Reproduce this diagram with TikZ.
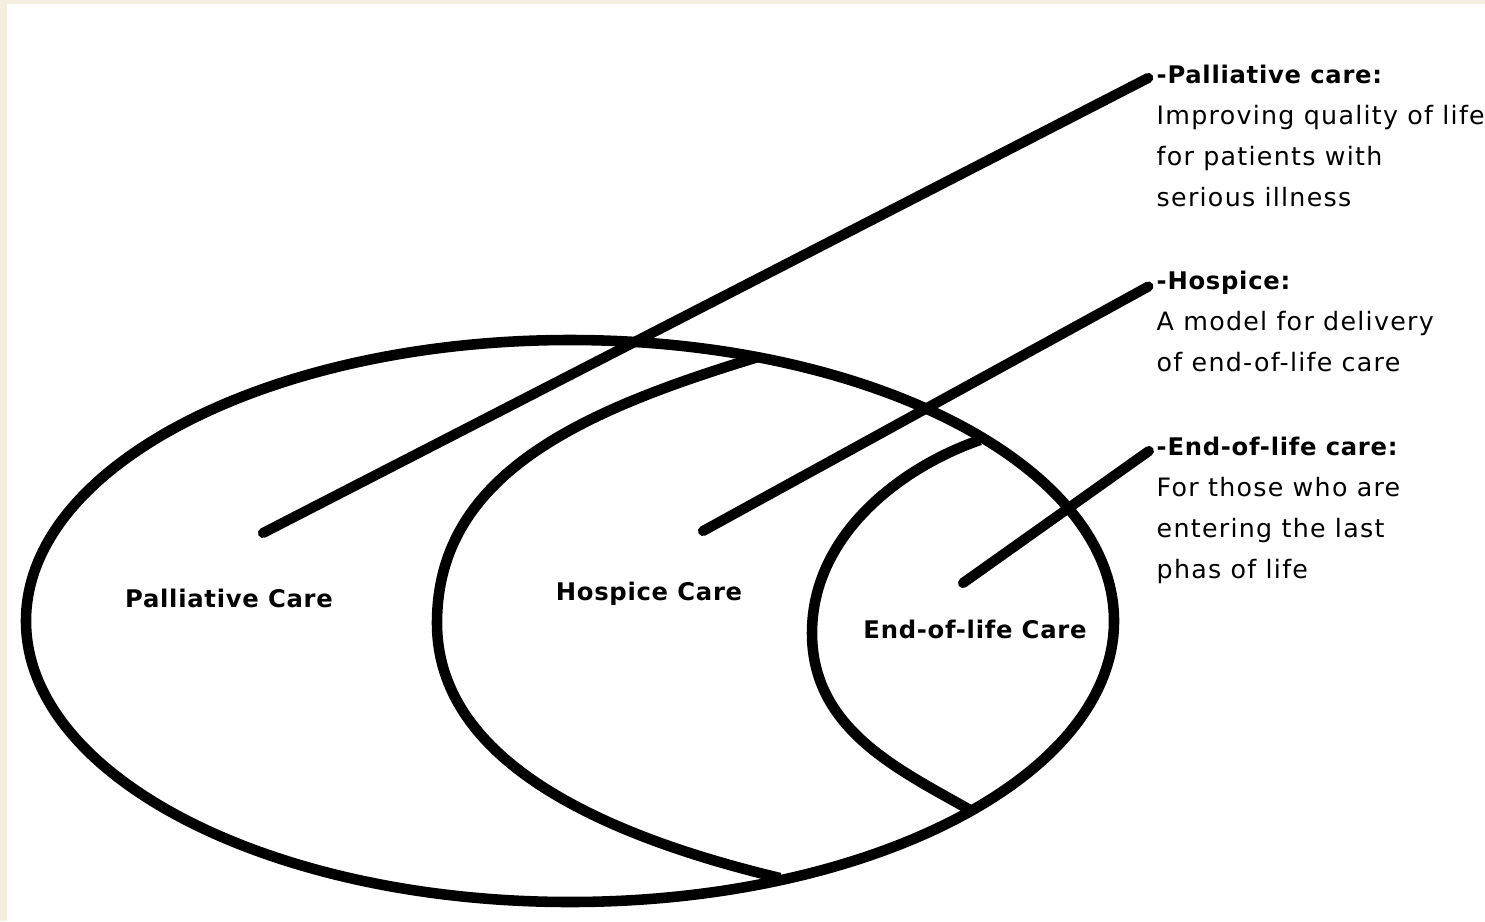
\documentclass[tikz,border=0pt]{standalone}
\usepackage{fontspec}
\setmainfont{DejaVu Sans}
\newfontfamily\notefont[LetterSpace=5]{DejaVu Sans}
\newfontfamily\namefont[LetterSpace=3]{DejaVu Sans}
\usepackage{tikz}
\usetikzlibrary{positioning}
\definecolor{paper}{RGB}{245,238,222}
\tikzstyle{ring}=[draw, line width=3pt]
\tikzstyle{pointer}=[draw, line width=2.9pt, line cap=round, shorten >=2.5pt]
\tikzstyle{setname}=[anchor=base, inner sep=0pt, font=\namefont\bfseries\fontsize{6.9pt}{8pt}\selectfont]
\tikzstyle{notehead}=[anchor=base west, inner sep=0pt, font=\namefont\bfseries\fontsize{6.9pt}{8pt}\selectfont]
\tikzstyle{notebody}=[inner sep=0pt, align=left, font=\notefont\fontsize{7.2pt}{11.66pt}\selectfont]

\begin{document}
\begin{tikzpicture}[x=0.01cm, y=-0.01cm]
	\useasboundingbox (0,0) rectangle (1485,921);
	\fill[paper] (0,0) rectangle (1485,921);
	\fill[white] (7,4) rectangle (1485,921);
	%---------------------
	\draw[ring] (570,621) ellipse [x radius=544, y radius=281];
	\draw[ring] (758,357) .. controls (584,410) and (437,473) .. (437,623)
		.. controls (437,760) and (600,835) .. (780,878);
	\draw[ring] (980,440) .. controls (904,466) and (812,533) .. (812,633)
		.. controls (812,730) and (900,770) .. (970,810);
	%---------------------
	\node[setname] (pallname) at (229,607) {Palliative Care};
	\node[setname] (hospname) at (649,600) {Hospice Care};
	\node[setname] (eolname) at (975,638) {End-of-life Care};
	%---------------------
	\node[notehead] (pallhead) at (1156,83) {-Palliative care:};
	\node[notebody, below right=6.2pt and 0pt of pallhead.base west] (pallbody) {Improving quality of life\\for patients with\\serious illness};
	\node[notehead] (hosphead) at (1156,289) {-Hospice:};
	\node[notebody, below right=6.2pt and 0pt of hosphead.base west] (hospbody) {A model for delivery\\of end-of-life care};
	\node[notehead] (eolhead) at (1156,455) {-End-of-life care:};
	\node[notebody, below right=6.2pt and 0pt of eolhead.base west] (eolbody) {For those who are\\entering the last\\phas of life};
	%---------------------
	\coordinate (pallroot) at (263,533);
	\coordinate (hosproot) at (703,531);
	\coordinate (eolroot) at (963,583);
	\draw[pointer] (pallroot) -- (pallhead.west);
	\draw[pointer] (hosproot) -- (hosphead.west);
	\draw[pointer] (eolroot) -- (eolhead.west);
\end{tikzpicture}
\end{document}
